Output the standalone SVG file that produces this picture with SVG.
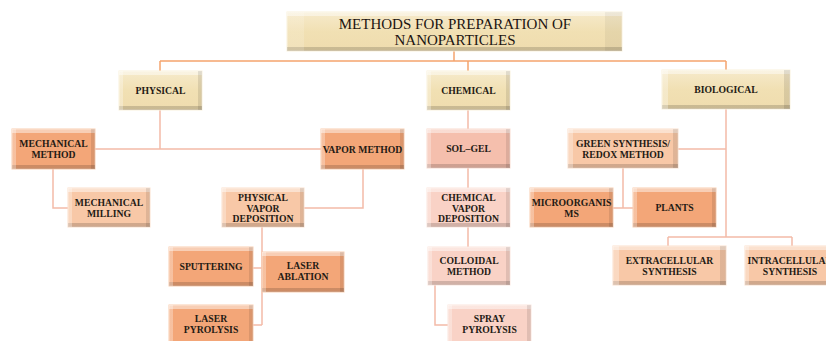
<svg xmlns="http://www.w3.org/2000/svg" width="826" height="341" viewBox="0 0 826 341">
<style>
.t{font-family:"Liberation Serif","Times New Roman",serif;font-size:9.7px;font-weight:bold;fill:#231a14;text-anchor:middle}
.tt{font-family:"Liberation Serif","Times New Roman",serif;font-size:15px;fill:#1c1410;text-anchor:middle}
.beige{fill:url(#gBeige);stroke:#faf1dc;stroke-width:1}
.orange{fill:#f3a678;stroke:#f9cdb0;stroke-width:1}
.peach{fill:#f8c8a7;stroke:#fbe0cc;stroke-width:1}
.salmon{fill:#f5bfad;stroke:#fadbd0;stroke-width:1}
.pink{fill:#f9d2c6;stroke:#fce6de;stroke-width:1}
.bv{fill:url(#bevV);stroke:none}
.bh{fill:url(#bevH);stroke:none}
.c1{fill:none;stroke:#f5a46e;stroke-width:1.5}
.c2{fill:none;stroke:#f3bba8;stroke-width:1.5}
</style>
<defs>
<linearGradient id="gBeige" x1="0" y1="0" x2="0" y2="1">
<stop offset="0" stop-color="#f6eacb"/>
<stop offset="0.5" stop-color="#f1e0b3"/>
<stop offset="1" stop-color="#efdcae"/>
</linearGradient>
<linearGradient id="bevV" x1="0" y1="0" x2="0" y2="1">
<stop offset="0" stop-color="#fff" stop-opacity="0.45"/>
<stop offset="0.1" stop-color="#fff" stop-opacity="0.45"/>
<stop offset="0.1" stop-color="#fff" stop-opacity="0"/>
<stop offset="0.9" stop-color="#000" stop-opacity="0"/>
<stop offset="0.9" stop-color="#000" stop-opacity="0.16"/>
<stop offset="1" stop-color="#000" stop-opacity="0.16"/>
</linearGradient>
<linearGradient id="bevH" x1="0" y1="0" x2="1" y2="0">
<stop offset="0" stop-color="#fff" stop-opacity="0.3"/>
<stop offset="0.05" stop-color="#fff" stop-opacity="0.3"/>
<stop offset="0.05" stop-color="#fff" stop-opacity="0"/>
<stop offset="0.95" stop-color="#000" stop-opacity="0"/>
<stop offset="0.95" stop-color="#000" stop-opacity="0.1"/>
<stop offset="1" stop-color="#000" stop-opacity="0.1"/>
</linearGradient>
</defs>
<rect width="826" height="341" fill="#fff"/>
<g id="connectors">
<path class="c1" d="M454 51V61M160 61H726M160 61V71M468 61V71M726 61V70"/>
<path class="c2" d="M160 110V149M95 149H321"/>
<path class="c2" d="M53 169V208H68"/>
<path class="c2" d="M363 169V208H304"/>
<path class="c2" d="M262 227V325M253 268H262M253 325H262"/>
<path class="c2" d="M468 110V129M468 168V188M468 227V247"/>
<path class="c2" d="M435 285V325H448"/>
<path class="c2" d="M726 109V237M678 149H726M668 237H792M668 237V246M792 237V246"/>
<path class="c2" d="M623 168V208M613 208H633"/>
</g>
<g id="title">
<rect class="beige" x="287" y="12" width="335" height="39"/>
<rect class="bv" x="287" y="12" width="335" height="39"/><rect x="287" y="12" width="335" height="39" style="fill:url(#bevH);opacity:0.5"/>
<text class="tt" x="455" y="28.5">METHODS FOR PREPARATION OF</text>
<text class="tt" x="455" y="44.5">NANOPARTICLES</text>
</g>
<g id="physical">
<rect class="beige" x="119" y="71" width="83" height="39"/><rect class="bv" x="119" y="71" width="83" height="39"/><rect class="bh" x="119" y="71" width="83" height="39"/>
<text class="t" x="160.5" y="94">PHYSICAL</text>
</g>
<g id="chemical">
<rect class="beige" x="427" y="71" width="83" height="39"/><rect class="bv" x="427" y="71" width="83" height="39"/><rect class="bh" x="427" y="71" width="83" height="39"/>
<text class="t" x="468.5" y="94">CHEMICAL</text>
</g>
<g id="biological">
<rect class="beige" x="662" y="70" width="128" height="39"/><rect class="bv" x="662" y="70" width="128" height="39"/><rect class="bh" x="662" y="70" width="128" height="39"/>
<text class="t" x="726" y="93">BIOLOGICAL</text>
</g>
<g id="mechanical-method">
<rect class="orange" x="12" y="129" width="83" height="40"/><rect class="bv" x="12" y="129" width="83" height="40"/><rect class="bh" x="12" y="129" width="83" height="40"/>
<text class="t" x="53.5" y="147">MECHANICAL</text><text class="t" x="53.5" y="158">METHOD</text>
</g>
<g id="vapor-method">
<rect class="orange" x="321" y="129" width="83" height="40"/><rect class="bv" x="321" y="129" width="83" height="40"/><rect class="bh" x="321" y="129" width="83" height="40"/>
<text class="t" x="362.5" y="152.5">VAPOR METHOD</text>
</g>
<g id="mechanical-milling">
<rect class="peach" x="68" y="188" width="82" height="39"/><rect class="bv" x="68" y="188" width="82" height="39"/><rect class="bh" x="68" y="188" width="82" height="39"/>
<text class="t" x="109" y="206">MECHANICAL</text><text class="t" x="109" y="217">MILLING</text>
</g>
<g id="pvd">
<rect class="peach" x="222" y="188" width="82" height="39"/><rect class="bv" x="222" y="188" width="82" height="39"/><rect class="bh" x="222" y="188" width="82" height="39"/>
<text class="t" x="263" y="201">PHYSICAL</text><text class="t" x="263" y="211.5">VAPOR</text><text class="t" x="263" y="222">DEPOSITION</text>
</g>
<g id="sputtering">
<rect class="orange" x="169" y="247" width="84" height="39"/><rect class="bv" x="169" y="247" width="84" height="39"/><rect class="bh" x="169" y="247" width="84" height="39"/>
<text class="t" x="211" y="270">SPUTTERING</text>
</g>
<g id="laser-ablation">
<rect class="orange" x="262" y="252" width="82" height="40"/><rect class="bv" x="262" y="252" width="82" height="40"/><rect class="bh" x="262" y="252" width="82" height="40"/>
<text class="t" x="303" y="269">LASER</text><text class="t" x="303" y="280">ABLATION</text>
</g>
<g id="laser-pyrolysis">
<rect class="orange" x="169" y="305" width="84" height="40"/><rect class="bv" x="169" y="305" width="84" height="40"/><rect class="bh" x="169" y="305" width="84" height="40"/>
<text class="t" x="211" y="322">LASER</text><text class="t" x="211" y="333">PYROLYSIS</text>
</g>
<g id="sol-gel">
<rect class="salmon" x="427" y="129" width="83" height="39"/><rect class="bv" x="427" y="129" width="83" height="39"/><rect class="bh" x="427" y="129" width="83" height="39"/>
<text class="t" x="468.5" y="152">SOL–GEL</text>
</g>
<g id="cvd">
<rect class="pink" x="427" y="188" width="83" height="39"/><rect class="bv" x="427" y="188" width="83" height="39"/><rect class="bh" x="427" y="188" width="83" height="39"/>
<text class="t" x="468.5" y="201">CHEMICAL</text><text class="t" x="468.5" y="211.5">VAPOR</text><text class="t" x="468.5" y="222">DEPOSITION</text>
</g>
<g id="colloidal">
<rect class="pink" x="428" y="247" width="82" height="38"/><rect class="bv" x="428" y="247" width="82" height="38"/><rect class="bh" x="428" y="247" width="82" height="38"/>
<text class="t" x="469" y="264">COLLOIDAL</text><text class="t" x="469" y="275">METHOD</text>
</g>
<g id="spray-pyrolysis">
<rect class="pink" x="448" y="305" width="83" height="40"/><rect class="bv" x="448" y="305" width="83" height="40"/><rect class="bh" x="448" y="305" width="83" height="40"/>
<text class="t" x="489.5" y="322">SPRAY</text><text class="t" x="489.5" y="333">PYROLYSIS</text>
</g>
<g id="green-synthesis">
<rect class="peach" x="568" y="129" width="110" height="39"/><rect class="bv" x="568" y="129" width="110" height="39"/><rect class="bh" x="568" y="129" width="110" height="39"/>
<text class="t" x="623" y="147">GREEN SYNTHESIS/</text><text class="t" x="623" y="158">REDOX METHOD</text>
</g>
<g id="microorganisms">
<rect class="orange" x="530" y="188" width="83" height="39"/><rect class="bv" x="530" y="188" width="83" height="39"/><rect class="bh" x="530" y="188" width="83" height="39"/>
<text class="t" x="571.5" y="206">MICROORGANIS</text><text class="t" x="571.5" y="217">MS</text>
</g>
<g id="plants">
<rect class="orange" x="633" y="188" width="83" height="39"/><rect class="bv" x="633" y="188" width="83" height="39"/><rect class="bh" x="633" y="188" width="83" height="39"/>
<text class="t" x="674.5" y="211">PLANTS</text>
</g>
<g id="extracellular">
<rect class="peach" x="613" y="246" width="113" height="39"/><rect class="bv" x="613" y="246" width="113" height="39"/><rect class="bh" x="613" y="246" width="113" height="39"/>
<text class="t" x="669.5" y="264">EXTRACELLULAR</text><text class="t" x="669.5" y="275">SYNTHESIS</text>
</g>
<g id="intracellular">
<rect class="peach" x="745" y="246" width="88" height="39"/><rect class="bv" x="745" y="246" width="88" height="39"/><rect class="bh" x="745" y="246" width="88" height="39"/>
<text class="t" x="790" y="264">INTRACELLULAR</text><text class="t" x="790" y="275">SYNTHESIS</text>
</g>
</svg>
